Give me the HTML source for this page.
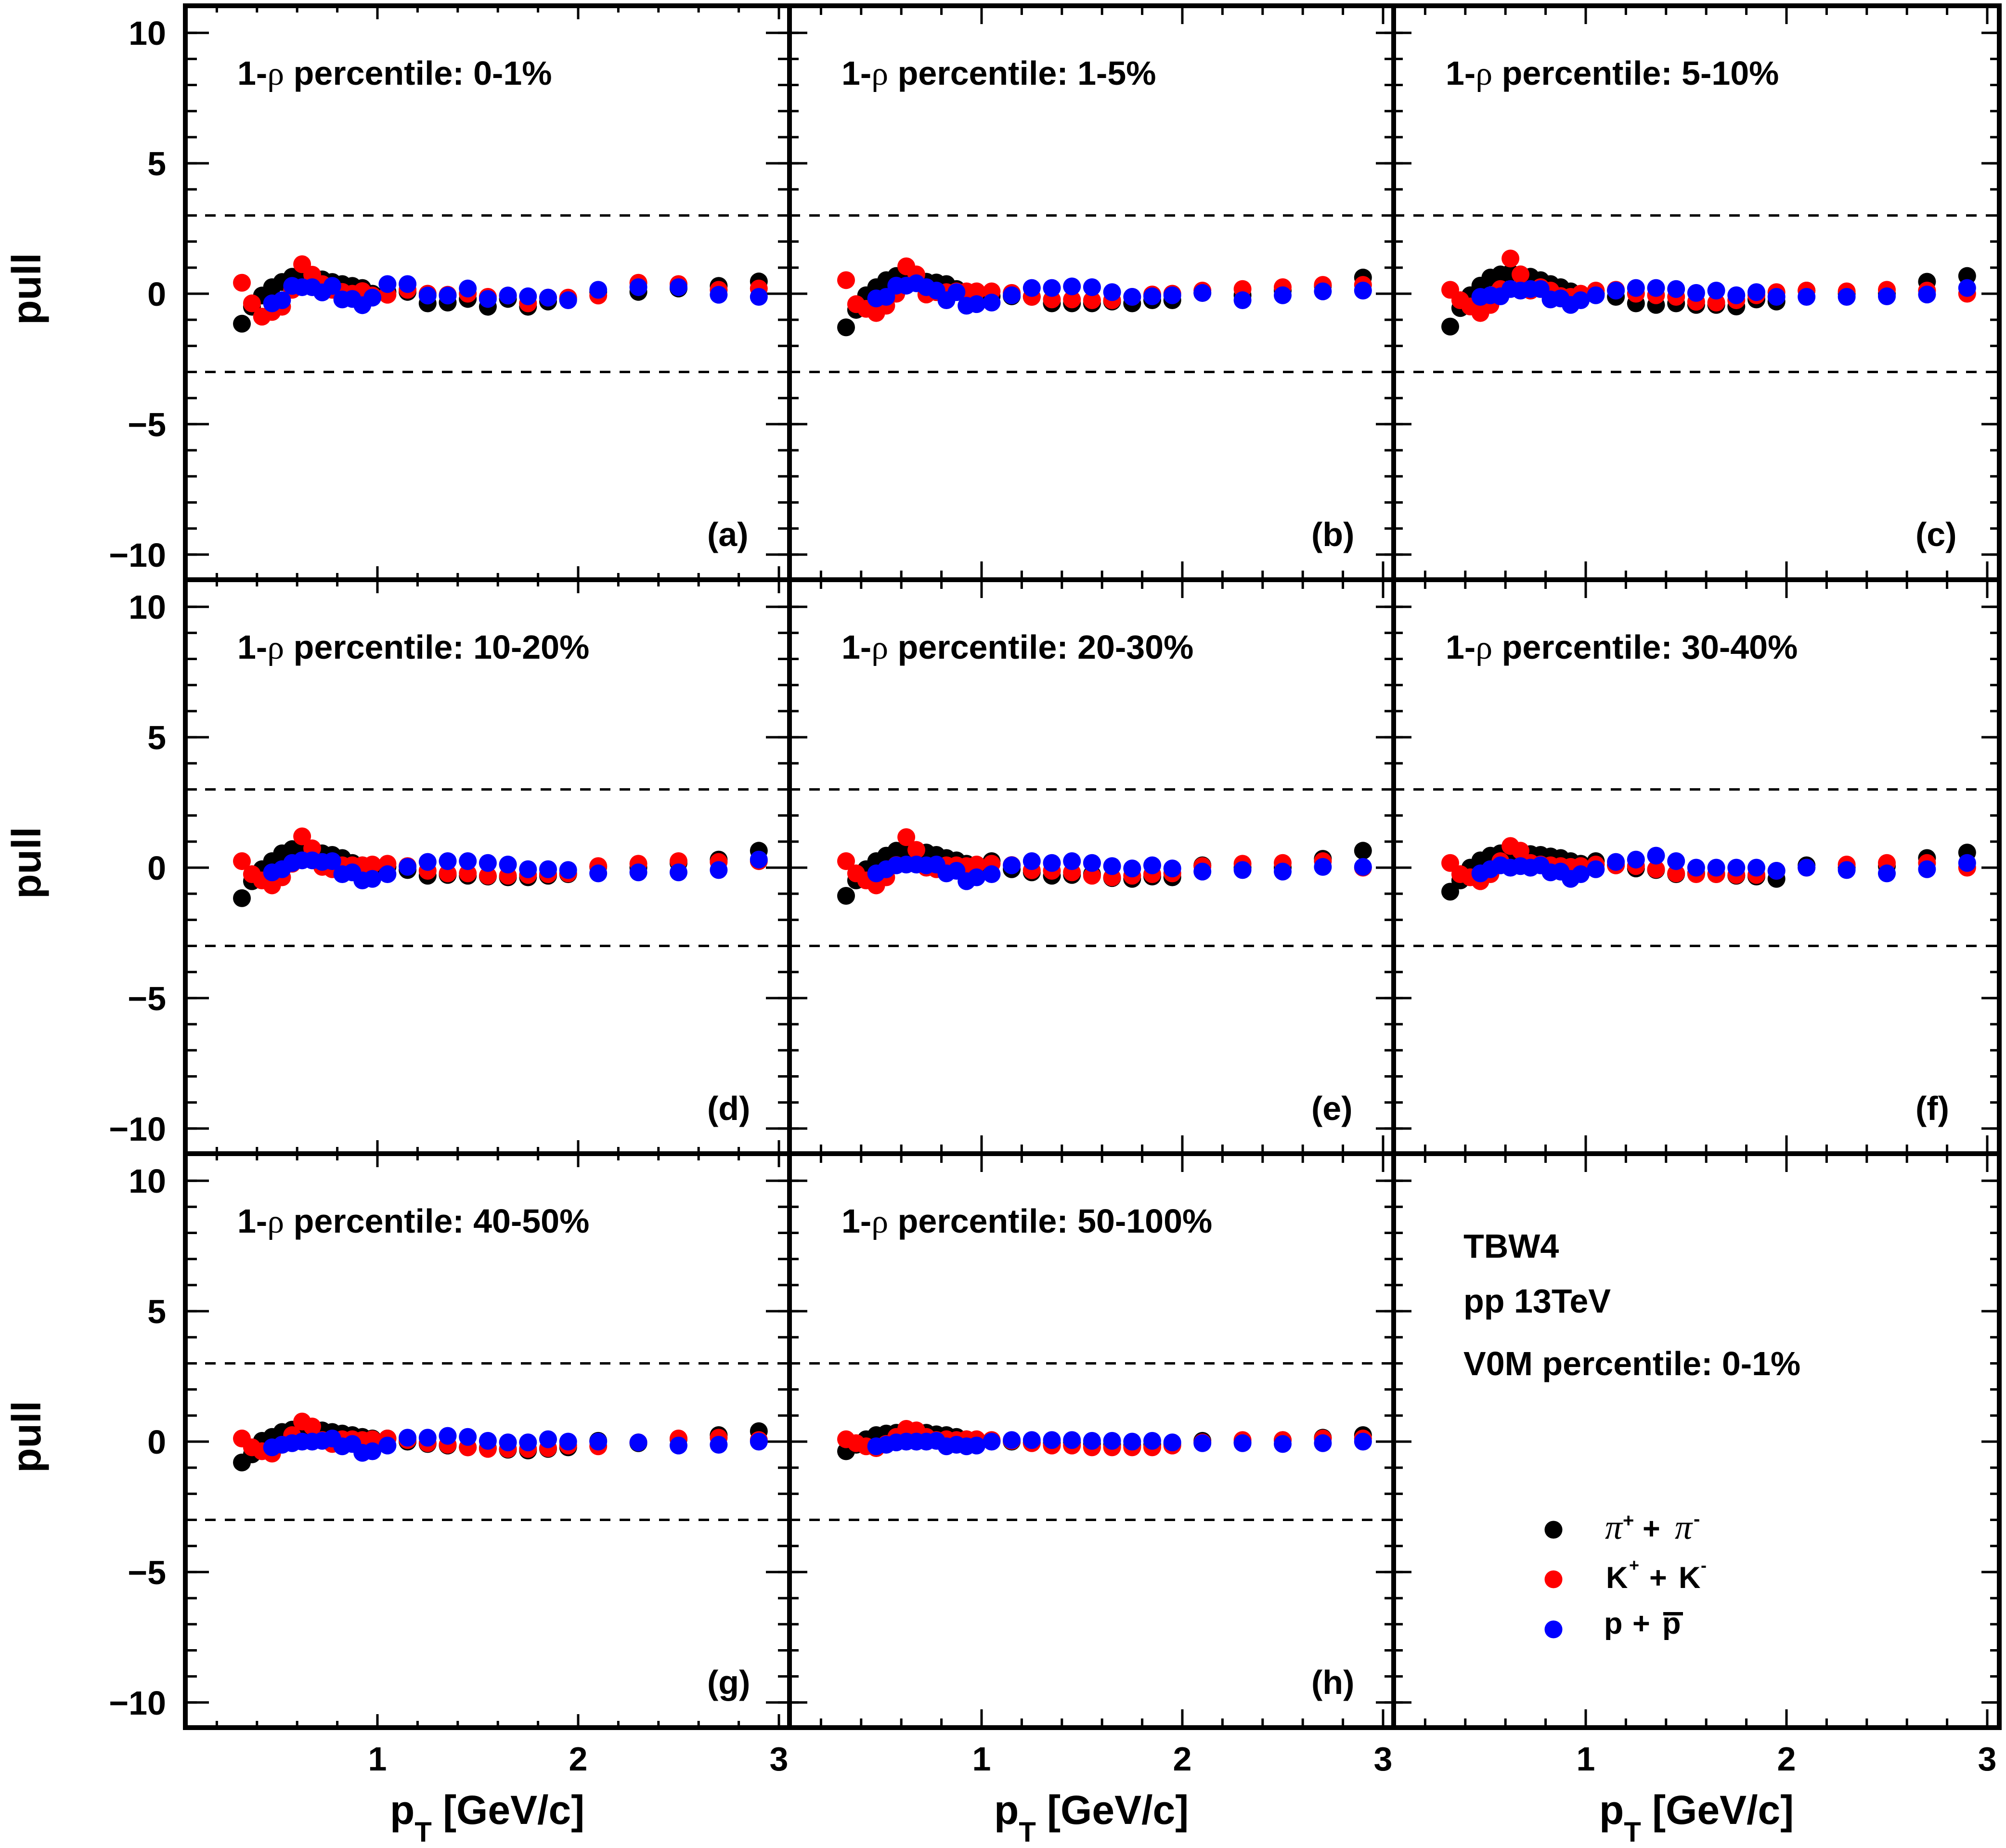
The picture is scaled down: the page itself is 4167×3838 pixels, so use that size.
<!DOCTYPE html>
<html><head><meta charset="utf-8">
<style>
html,body{margin:0;padding:0;background:#fff;}
svg{display:block;}
text{font-family:"Liberation Sans",Arial,sans-serif;font-weight:bold;fill:#000;}
.sym{font-family:"Liberation Serif","DejaVu Serif",serif;font-weight:normal;}
</style></head><body>
<svg width="4167" height="3838" viewBox="0 0 4167 3838" xmlns="http://www.w3.org/2000/svg">
<rect width="4167" height="3838" fill="#fff"/>
<g stroke="#000" stroke-width="5" stroke-dasharray="22 19" fill="none">
<line x1="385" y1="447.5" x2="1640" y2="447.5"/><line x1="385" y1="772.5" x2="1640" y2="772.5"/>
<line x1="1640" y1="447.5" x2="2895" y2="447.5"/><line x1="1640" y1="772.5" x2="2895" y2="772.5"/>
<line x1="2895" y1="447.5" x2="4153" y2="447.5"/><line x1="2895" y1="772.5" x2="4153" y2="772.5"/>
<line x1="385" y1="1639.5" x2="1640" y2="1639.5"/><line x1="385" y1="1964.5" x2="1640" y2="1964.5"/>
<line x1="1640" y1="1639.5" x2="2895" y2="1639.5"/><line x1="1640" y1="1964.5" x2="2895" y2="1964.5"/>
<line x1="2895" y1="1639.5" x2="4153" y2="1639.5"/><line x1="2895" y1="1964.5" x2="4153" y2="1964.5"/>
<line x1="385" y1="2831.5" x2="1640" y2="2831.5"/><line x1="385" y1="3156.5" x2="1640" y2="3156.5"/>
<line x1="1640" y1="2831.5" x2="2895" y2="2831.5"/><line x1="1640" y1="3156.5" x2="2895" y2="3156.5"/>
</g>

<!-- Y ticks (dash trick) -->
<g stroke="#000" fill="none">
<!-- col0 -->
<g stroke-dasharray="5 49.18" stroke-width="24">
<line x1="397" y1="65.7" x2="397" y2="1154.3"/><line x1="1628" y1="65.7" x2="1628" y2="1154.3"/>
<line x1="397" y1="1257.7" x2="397" y2="2346.3"/><line x1="1628" y1="1257.7" x2="1628" y2="2346.3"/>
<line x1="397" y1="2449.7" x2="397" y2="3538.3"/><line x1="1628" y1="2449.7" x2="1628" y2="3538.3"/>
</g>
<g stroke-dasharray="5 265.9" stroke-width="49">
<line x1="409.5" y1="65.7" x2="409.5" y2="1154.3"/><line x1="1615.5" y1="65.7" x2="1615.5" y2="1154.3"/>
<line x1="409.5" y1="1257.7" x2="409.5" y2="2346.3"/><line x1="1615.5" y1="1257.7" x2="1615.5" y2="2346.3"/>
<line x1="409.5" y1="2449.7" x2="409.5" y2="3538.3"/><line x1="1615.5" y1="2449.7" x2="1615.5" y2="3538.3"/>
</g>
<!-- col1 & col2 -->
<g stroke-dasharray="5 49.18" stroke-width="19">
<line x1="1649.5" y1="65.7" x2="1649.5" y2="1154.3"/><line x1="2885.5" y1="65.7" x2="2885.5" y2="1154.3"/>
<line x1="1649.5" y1="1257.7" x2="1649.5" y2="2346.3"/><line x1="2885.5" y1="1257.7" x2="2885.5" y2="2346.3"/>
<line x1="1649.5" y1="2449.7" x2="1649.5" y2="3538.3"/><line x1="2885.5" y1="2449.7" x2="2885.5" y2="3538.3"/>
<line x1="2904.5" y1="65.7" x2="2904.5" y2="1154.3"/><line x1="4143.5" y1="65.7" x2="4143.5" y2="1154.3"/>
<line x1="2904.5" y1="1257.7" x2="2904.5" y2="2346.3"/><line x1="4143.5" y1="1257.7" x2="4143.5" y2="2346.3"/>
<line x1="2904.5" y1="2449.7" x2="2904.5" y2="3538.3"/><line x1="4143.5" y1="2449.7" x2="4143.5" y2="3538.3"/>
</g>
<g stroke-dasharray="5 265.9" stroke-width="37">
<line x1="1658.5" y1="65.7" x2="1658.5" y2="1154.3"/><line x1="2876.5" y1="65.7" x2="2876.5" y2="1154.3"/>
<line x1="1658.5" y1="1257.7" x2="1658.5" y2="2346.3"/><line x1="2876.5" y1="1257.7" x2="2876.5" y2="2346.3"/>
<line x1="1658.5" y1="2449.7" x2="1658.5" y2="3538.3"/><line x1="2876.5" y1="2449.7" x2="2876.5" y2="3538.3"/>
<line x1="2913.5" y1="65.7" x2="2913.5" y2="1154.3"/><line x1="4134.5" y1="65.7" x2="4134.5" y2="1154.3"/>
<line x1="2913.5" y1="1257.7" x2="2913.5" y2="2346.3"/><line x1="4134.5" y1="1257.7" x2="4134.5" y2="2346.3"/>
<line x1="2913.5" y1="2449.7" x2="2913.5" y2="3538.3"/><line x1="4134.5" y1="2449.7" x2="4134.5" y2="3538.3"/>
</g>
</g>

<!-- X ticks (dash trick) -->
<g stroke="#000" fill="none">
<!-- col0 minor -->
<g stroke-dasharray="5 78.4" stroke-width="14">
<line x1="447.9" y1="19" x2="1620.5" y2="19"/><line x1="447.9" y1="1197" x2="1620.5" y2="1197"/>
<line x1="447.9" y1="1211" x2="1620.5" y2="1211"/><line x1="447.9" y1="2389" x2="1620.5" y2="2389"/>
<line x1="447.9" y1="2403" x2="1620.5" y2="2403"/><line x1="447.9" y1="3581" x2="1620.5" y2="3581"/>
</g>
<g stroke-dasharray="5 412" stroke-width="28">
<line x1="781.5" y1="26" x2="1620.5" y2="26"/><line x1="781.5" y1="1190" x2="1620.5" y2="1190"/>
<line x1="781.5" y1="1218" x2="1620.5" y2="1218"/><line x1="781.5" y1="2382" x2="1620.5" y2="2382"/>
<line x1="781.5" y1="2410" x2="1620.5" y2="2410"/><line x1="781.5" y1="3574" x2="1620.5" y2="3574"/>
</g>
<!-- col1/col2 minor -->
<g stroke-dasharray="5 78.4" stroke-width="19">
<line x1="1702.9" y1="21.5" x2="2875.5" y2="21.5"/><line x1="1702.9" y1="1194.5" x2="2875.5" y2="1194.5"/>
<line x1="1702.9" y1="1213.5" x2="2875.5" y2="1213.5"/><line x1="1702.9" y1="2386.5" x2="2875.5" y2="2386.5"/>
<line x1="1702.9" y1="2405.5" x2="2875.5" y2="2405.5"/><line x1="1702.9" y1="3578.5" x2="2875.5" y2="3578.5"/>
<line x1="2957.9" y1="21.5" x2="4130.5" y2="21.5"/><line x1="2957.9" y1="1194.5" x2="4130.5" y2="1194.5"/>
<line x1="2957.9" y1="1213.5" x2="4130.5" y2="1213.5"/><line x1="2957.9" y1="2386.5" x2="4130.5" y2="2386.5"/>
<line x1="2957.9" y1="2405.5" x2="4130.5" y2="2405.5"/><line x1="2957.9" y1="3578.5" x2="4130.5" y2="3578.5"/>
</g>
<g stroke-dasharray="5 412" stroke-width="38">
<line x1="2036.5" y1="31" x2="2875.5" y2="31"/><line x1="2036.5" y1="1185" x2="2875.5" y2="1185"/>
<line x1="2036.5" y1="1223" x2="2875.5" y2="1223"/><line x1="2036.5" y1="2377" x2="2875.5" y2="2377"/>
<line x1="2036.5" y1="2415" x2="2875.5" y2="2415"/><line x1="2036.5" y1="3569" x2="2875.5" y2="3569"/>
<line x1="3291.5" y1="31" x2="4130.5" y2="31"/><line x1="3291.5" y1="1185" x2="4130.5" y2="1185"/>
<line x1="3291.5" y1="1223" x2="4130.5" y2="1223"/><line x1="3291.5" y1="2377" x2="4130.5" y2="2377"/>
<line x1="3291.5" y1="2415" x2="4130.5" y2="2415"/><line x1="3291.5" y1="3569" x2="4130.5" y2="3569"/>
</g>
</g>

<!-- ===== markers ===== -->
<!-- panel a -->
<g transform="translate(385,610) scale(1,-54.18)">
<g fill="#000">
<ellipse cx="117.5" cy="-1.15" rx="18.5" ry=".3415"/><ellipse cx="138.4" cy="-0.5" rx="18.5" ry=".3415"/><ellipse cx="159.2" cy="-0.07" rx="18.5" ry=".3415"/><ellipse cx="180.1" cy="0.25" rx="18.5" ry=".3415"/><ellipse cx="200.9" cy="0.45" rx="18.5" ry=".3415"/><ellipse cx="221.8" cy="0.65" rx="18.5" ry=".3415"/><ellipse cx="242.6" cy="0.7" rx="18.5" ry=".3415"/><ellipse cx="263.5" cy="0.6" rx="18.5" ry=".3415"/><ellipse cx="284.3" cy="0.55" rx="18.5" ry=".3415"/><ellipse cx="305.2" cy="0.45" rx="18.5" ry=".3415"/><ellipse cx="326" cy="0.37" rx="18.5" ry=".3415"/><ellipse cx="346.9" cy="0.3" rx="18.5" ry=".3415"/><ellipse cx="367.7" cy="0.22" rx="18.5" ry=".3415"/><ellipse cx="388.6" cy="0" rx="18.5" ry=".3415"/><ellipse cx="419.9" cy="0.07" rx="18.5" ry=".3415"/><ellipse cx="461.6" cy="0.07" rx="18.5" ry=".3415"/><ellipse cx="503.3" cy="-0.37" rx="18.5" ry=".3415"/><ellipse cx="545" cy="-0.34" rx="18.5" ry=".3415"/><ellipse cx="586.7" cy="-0.2" rx="18.5" ry=".3415"/><ellipse cx="628.4" cy="-0.5" rx="18.5" ry=".3415"/><ellipse cx="670.1" cy="-0.2" rx="18.5" ry=".3415"/><ellipse cx="711.8" cy="-0.5" rx="18.5" ry=".3415"/><ellipse cx="753.5" cy="-0.3" rx="18.5" ry=".3415"/><ellipse cx="795.2" cy="-0.2" rx="18.5" ry=".3415"/><ellipse cx="857.7" cy="0.07" rx="18.5" ry=".3415"/><ellipse cx="941.1" cy="0.07" rx="18.5" ry=".3415"/><ellipse cx="1024.5" cy="0.2" rx="18.5" ry=".3415"/><ellipse cx="1107.9" cy="0.3" rx="18.5" ry=".3415"/><ellipse cx="1191.3" cy="0.47" rx="18.5" ry=".3415"/>
</g>
<g fill="#f00">
<ellipse cx="117.5" cy="0.42" rx="18.5" ry=".3415"/><ellipse cx="138.4" cy="-0.37" rx="18.5" ry=".3415"/><ellipse cx="159.2" cy="-0.88" rx="18.5" ry=".3415"/><ellipse cx="180.1" cy="-0.7" rx="18.5" ry=".3415"/><ellipse cx="200.9" cy="-0.5" rx="18.5" ry=".3415"/><ellipse cx="221.8" cy="0.15" rx="18.5" ry=".3415"/><ellipse cx="242.6" cy="1.13" rx="18.5" ry=".3415"/><ellipse cx="263.5" cy="0.73" rx="18.5" ry=".3415"/><ellipse cx="284.3" cy="0.37" rx="18.5" ry=".3415"/><ellipse cx="305.2" cy="0.15" rx="18.5" ry=".3415"/><ellipse cx="326" cy="0.07" rx="18.5" ry=".3415"/><ellipse cx="346.9" cy="0" rx="18.5" ry=".3415"/><ellipse cx="367.7" cy="0.1" rx="18.5" ry=".3415"/><ellipse cx="388.6" cy="-0.07" rx="18.5" ry=".3415"/><ellipse cx="419.9" cy="-0.04" rx="18.5" ry=".3415"/><ellipse cx="461.6" cy="0.15" rx="18.5" ry=".3415"/><ellipse cx="503.3" cy="0" rx="18.5" ry=".3415"/><ellipse cx="545" cy="-0.04" rx="18.5" ry=".3415"/><ellipse cx="586.7" cy="0" rx="18.5" ry=".3415"/><ellipse cx="628.4" cy="-0.12" rx="18.5" ry=".3415"/><ellipse cx="670.1" cy="-0.07" rx="18.5" ry=".3415"/><ellipse cx="711.8" cy="-0.37" rx="18.5" ry=".3415"/><ellipse cx="753.5" cy="-0.15" rx="18.5" ry=".3415"/><ellipse cx="795.2" cy="-0.15" rx="18.5" ry=".3415"/><ellipse cx="857.7" cy="-0.07" rx="18.5" ry=".3415"/><ellipse cx="941.1" cy="0.42" rx="18.5" ry=".3415"/><ellipse cx="1024.5" cy="0.37" rx="18.5" ry=".3415"/><ellipse cx="1107.9" cy="0.15" rx="18.5" ry=".3415"/><ellipse cx="1191.3" cy="0.2" rx="18.5" ry=".3415"/>
</g>
<g fill="#00f">
<ellipse cx="180.1" cy="-0.37" rx="18.5" ry=".3415"/><ellipse cx="200.9" cy="-0.25" rx="18.5" ry=".3415"/><ellipse cx="221.8" cy="0.3" rx="18.5" ry=".3415"/><ellipse cx="242.6" cy="0.25" rx="18.5" ry=".3415"/><ellipse cx="263.5" cy="0.25" rx="18.5" ry=".3415"/><ellipse cx="284.3" cy="0.05" rx="18.5" ry=".3415"/><ellipse cx="305.2" cy="0.3" rx="18.5" ry=".3415"/><ellipse cx="326" cy="-0.22" rx="18.5" ry=".3415"/><ellipse cx="346.9" cy="-0.2" rx="18.5" ry=".3415"/><ellipse cx="367.7" cy="-0.44" rx="18.5" ry=".3415"/><ellipse cx="388.6" cy="-0.15" rx="18.5" ry=".3415"/><ellipse cx="419.9" cy="0.37" rx="18.5" ry=".3415"/><ellipse cx="461.6" cy="0.37" rx="18.5" ry=".3415"/><ellipse cx="503.3" cy="-0.07" rx="18.5" ry=".3415"/><ellipse cx="545" cy="-0.07" rx="18.5" ry=".3415"/><ellipse cx="586.7" cy="0.2" rx="18.5" ry=".3415"/><ellipse cx="628.4" cy="-0.2" rx="18.5" ry=".3415"/><ellipse cx="670.1" cy="-0.07" rx="18.5" ry=".3415"/><ellipse cx="711.8" cy="-0.1" rx="18.5" ry=".3415"/><ellipse cx="753.5" cy="-0.15" rx="18.5" ry=".3415"/><ellipse cx="795.2" cy="-0.25" rx="18.5" ry=".3415"/><ellipse cx="857.7" cy="0.15" rx="18.5" ry=".3415"/><ellipse cx="941.1" cy="0.25" rx="18.5" ry=".3415"/><ellipse cx="1024.5" cy="0.25" rx="18.5" ry=".3415"/><ellipse cx="1107.9" cy="-0.04" rx="18.5" ry=".3415"/><ellipse cx="1191.3" cy="-0.12" rx="18.5" ry=".3415"/>
</g>
</g>

<!-- panel b -->
<g transform="translate(1640,610) scale(1,-54.18)">
<g fill="#000">
<ellipse cx="117.5" cy="-1.29" rx="18.5" ry=".3415"/><ellipse cx="138.4" cy="-0.62" rx="18.5" ry=".3415"/><ellipse cx="159.2" cy="-0.06" rx="18.5" ry=".3415"/><ellipse cx="180.1" cy="0.25" rx="18.5" ry=".3415"/><ellipse cx="200.9" cy="0.52" rx="18.5" ry=".3415"/><ellipse cx="221.8" cy="0.68" rx="18.5" ry=".3415"/><ellipse cx="242.6" cy="0.77" rx="18.5" ry=".3415"/><ellipse cx="263.5" cy="0.68" rx="18.5" ry=".3415"/><ellipse cx="284.3" cy="0.46" rx="18.5" ry=".3415"/><ellipse cx="305.2" cy="0.43" rx="18.5" ry=".3415"/><ellipse cx="326" cy="0.37" rx="18.5" ry=".3415"/><ellipse cx="346.9" cy="0.18" rx="18.5" ry=".3415"/><ellipse cx="367.7" cy="0.06" rx="18.5" ry=".3415"/><ellipse cx="388.6" cy="-0.1" rx="18.5" ry=".3415"/><ellipse cx="419.9" cy="-0.1" rx="18.5" ry=".3415"/><ellipse cx="461.6" cy="-0.1" rx="18.5" ry=".3415"/><ellipse cx="503.3" cy="-0.12" rx="18.5" ry=".3415"/><ellipse cx="545" cy="-0.37" rx="18.5" ry=".3415"/><ellipse cx="586.7" cy="-0.37" rx="18.5" ry=".3415"/><ellipse cx="628.4" cy="-0.37" rx="18.5" ry=".3415"/><ellipse cx="670.1" cy="-0.3" rx="18.5" ry=".3415"/><ellipse cx="711.8" cy="-0.37" rx="18.5" ry=".3415"/><ellipse cx="753.5" cy="-0.25" rx="18.5" ry=".3415"/><ellipse cx="795.2" cy="-0.25" rx="18.5" ry=".3415"/><ellipse cx="857.7" cy="0.03" rx="18.5" ry=".3415"/><ellipse cx="941.1" cy="-0.06" rx="18.5" ry=".3415"/><ellipse cx="1024.5" cy="0.12" rx="18.5" ry=".3415"/><ellipse cx="1107.9" cy="0.3" rx="18.5" ry=".3415"/><ellipse cx="1191.3" cy="0.62" rx="18.5" ry=".3415"/>
</g>
<g fill="#f00">
<ellipse cx="117.5" cy="0.52" rx="18.5" ry=".3415"/><ellipse cx="138.4" cy="-0.4" rx="18.5" ry=".3415"/><ellipse cx="159.2" cy="-0.58" rx="18.5" ry=".3415"/><ellipse cx="180.1" cy="-0.74" rx="18.5" ry=".3415"/><ellipse cx="200.9" cy="-0.46" rx="18.5" ry=".3415"/><ellipse cx="221.8" cy="0" rx="18.5" ry=".3415"/><ellipse cx="242.6" cy="1.05" rx="18.5" ry=".3415"/><ellipse cx="263.5" cy="0.74" rx="18.5" ry=".3415"/><ellipse cx="284.3" cy="-0.03" rx="18.5" ry=".3415"/><ellipse cx="305.2" cy="0.06" rx="18.5" ry=".3415"/><ellipse cx="326" cy="0.06" rx="18.5" ry=".3415"/><ellipse cx="346.9" cy="0.09" rx="18.5" ry=".3415"/><ellipse cx="367.7" cy="0.09" rx="18.5" ry=".3415"/><ellipse cx="388.6" cy="0.09" rx="18.5" ry=".3415"/><ellipse cx="419.9" cy="0.09" rx="18.5" ry=".3415"/><ellipse cx="461.6" cy="0.03" rx="18.5" ry=".3415"/><ellipse cx="503.3" cy="-0.12" rx="18.5" ry=".3415"/><ellipse cx="545" cy="-0.22" rx="18.5" ry=".3415"/><ellipse cx="586.7" cy="-0.22" rx="18.5" ry=".3415"/><ellipse cx="628.4" cy="-0.25" rx="18.5" ry=".3415"/><ellipse cx="670.1" cy="-0.25" rx="18.5" ry=".3415"/><ellipse cx="711.8" cy="-0.12" rx="18.5" ry=".3415"/><ellipse cx="753.5" cy="-0.03" rx="18.5" ry=".3415"/><ellipse cx="795.2" cy="0" rx="18.5" ry=".3415"/><ellipse cx="857.7" cy="0.12" rx="18.5" ry=".3415"/><ellipse cx="941.1" cy="0.18" rx="18.5" ry=".3415"/><ellipse cx="1024.5" cy="0.25" rx="18.5" ry=".3415"/><ellipse cx="1107.9" cy="0.34" rx="18.5" ry=".3415"/><ellipse cx="1191.3" cy="0.34" rx="18.5" ry=".3415"/>
</g>
<g fill="#00f">
<ellipse cx="180.1" cy="-0.18" rx="18.5" ry=".3415"/><ellipse cx="200.9" cy="-0.12" rx="18.5" ry=".3415"/><ellipse cx="221.8" cy="0.31" rx="18.5" ry=".3415"/><ellipse cx="242.6" cy="0.31" rx="18.5" ry=".3415"/><ellipse cx="263.5" cy="0.4" rx="18.5" ry=".3415"/><ellipse cx="284.3" cy="0.25" rx="18.5" ry=".3415"/><ellipse cx="305.2" cy="0.12" rx="18.5" ry=".3415"/><ellipse cx="326" cy="-0.25" rx="18.5" ry=".3415"/><ellipse cx="346.9" cy="0.06" rx="18.5" ry=".3415"/><ellipse cx="367.7" cy="-0.46" rx="18.5" ry=".3415"/><ellipse cx="388.6" cy="-0.4" rx="18.5" ry=".3415"/><ellipse cx="419.9" cy="-0.34" rx="18.5" ry=".3415"/><ellipse cx="461.6" cy="-0.06" rx="18.5" ry=".3415"/><ellipse cx="503.3" cy="0.22" rx="18.5" ry=".3415"/><ellipse cx="545" cy="0.22" rx="18.5" ry=".3415"/><ellipse cx="586.7" cy="0.28" rx="18.5" ry=".3415"/><ellipse cx="628.4" cy="0.25" rx="18.5" ry=".3415"/><ellipse cx="670.1" cy="0.06" rx="18.5" ry=".3415"/><ellipse cx="711.8" cy="-0.12" rx="18.5" ry=".3415"/><ellipse cx="753.5" cy="-0.1" rx="18.5" ry=".3415"/><ellipse cx="795.2" cy="-0.06" rx="18.5" ry=".3415"/><ellipse cx="857.7" cy="0.03" rx="18.5" ry=".3415"/><ellipse cx="941.1" cy="-0.25" rx="18.5" ry=".3415"/><ellipse cx="1024.5" cy="-0.06" rx="18.5" ry=".3415"/><ellipse cx="1107.9" cy="0.09" rx="18.5" ry=".3415"/><ellipse cx="1191.3" cy="0.12" rx="18.5" ry=".3415"/>
</g>
</g>

<!-- panel c -->
<g transform="translate(2895,610) scale(1,-54.18)">
<g fill="#000">
<ellipse cx="117.5" cy="-1.26" rx="18.5" ry=".3415"/><ellipse cx="138.4" cy="-0.55" rx="18.5" ry=".3415"/><ellipse cx="159.2" cy="-0.06" rx="18.5" ry=".3415"/><ellipse cx="180.1" cy="0.31" rx="18.5" ry=".3415"/><ellipse cx="200.9" cy="0.62" rx="18.5" ry=".3415"/><ellipse cx="221.8" cy="0.74" rx="18.5" ry=".3415"/><ellipse cx="242.6" cy="0.8" rx="18.5" ry=".3415"/><ellipse cx="263.5" cy="0.74" rx="18.5" ry=".3415"/><ellipse cx="284.3" cy="0.65" rx="18.5" ry=".3415"/><ellipse cx="305.2" cy="0.52" rx="18.5" ry=".3415"/><ellipse cx="326" cy="0.37" rx="18.5" ry=".3415"/><ellipse cx="346.9" cy="0.25" rx="18.5" ry=".3415"/><ellipse cx="367.7" cy="0.09" rx="18.5" ry=".3415"/><ellipse cx="388.6" cy="-0.03" rx="18.5" ry=".3415"/><ellipse cx="419.9" cy="0" rx="18.5" ry=".3415"/><ellipse cx="461.6" cy="-0.12" rx="18.5" ry=".3415"/><ellipse cx="503.3" cy="-0.37" rx="18.5" ry=".3415"/><ellipse cx="545" cy="-0.43" rx="18.5" ry=".3415"/><ellipse cx="586.7" cy="-0.37" rx="18.5" ry=".3415"/><ellipse cx="628.4" cy="-0.43" rx="18.5" ry=".3415"/><ellipse cx="670.1" cy="-0.43" rx="18.5" ry=".3415"/><ellipse cx="711.8" cy="-0.49" rx="18.5" ry=".3415"/><ellipse cx="753.5" cy="-0.22" rx="18.5" ry=".3415"/><ellipse cx="795.2" cy="-0.3" rx="18.5" ry=".3415"/><ellipse cx="857.7" cy="0.12" rx="18.5" ry=".3415"/><ellipse cx="941.1" cy="0" rx="18.5" ry=".3415"/><ellipse cx="1024.5" cy="0" rx="18.5" ry=".3415"/><ellipse cx="1107.9" cy="0.46" rx="18.5" ry=".3415"/><ellipse cx="1191.3" cy="0.68" rx="18.5" ry=".3415"/>
</g>
<g fill="#f00">
<ellipse cx="117.5" cy="0.15" rx="18.5" ry=".3415"/><ellipse cx="138.4" cy="-0.25" rx="18.5" ry=".3415"/><ellipse cx="159.2" cy="-0.49" rx="18.5" ry=".3415"/><ellipse cx="180.1" cy="-0.74" rx="18.5" ry=".3415"/><ellipse cx="200.9" cy="-0.43" rx="18.5" ry=".3415"/><ellipse cx="221.8" cy="0.18" rx="18.5" ry=".3415"/><ellipse cx="242.6" cy="1.35" rx="18.5" ry=".3415"/><ellipse cx="263.5" cy="0.74" rx="18.5" ry=".3415"/><ellipse cx="284.3" cy="0.12" rx="18.5" ry=".3415"/><ellipse cx="305.2" cy="0.25" rx="18.5" ry=".3415"/><ellipse cx="326" cy="0.12" rx="18.5" ry=".3415"/><ellipse cx="346.9" cy="-0.09" rx="18.5" ry=".3415"/><ellipse cx="367.7" cy="-0.12" rx="18.5" ry=".3415"/><ellipse cx="388.6" cy="0" rx="18.5" ry=".3415"/><ellipse cx="419.9" cy="0.12" rx="18.5" ry=".3415"/><ellipse cx="461.6" cy="0.15" rx="18.5" ry=".3415"/><ellipse cx="503.3" cy="0" rx="18.5" ry=".3415"/><ellipse cx="545" cy="-0.06" rx="18.5" ry=".3415"/><ellipse cx="586.7" cy="-0.12" rx="18.5" ry=".3415"/><ellipse cx="628.4" cy="-0.31" rx="18.5" ry=".3415"/><ellipse cx="670.1" cy="-0.34" rx="18.5" ry=".3415"/><ellipse cx="711.8" cy="-0.25" rx="18.5" ry=".3415"/><ellipse cx="753.5" cy="-0.06" rx="18.5" ry=".3415"/><ellipse cx="795.2" cy="0.06" rx="18.5" ry=".3415"/><ellipse cx="857.7" cy="0.12" rx="18.5" ry=".3415"/><ellipse cx="941.1" cy="0.09" rx="18.5" ry=".3415"/><ellipse cx="1024.5" cy="0.15" rx="18.5" ry=".3415"/><ellipse cx="1107.9" cy="0.12" rx="18.5" ry=".3415"/><ellipse cx="1191.3" cy="0" rx="18.5" ry=".3415"/>
</g>
<g fill="#00f">
<ellipse cx="180.1" cy="-0.12" rx="18.5" ry=".3415"/><ellipse cx="200.9" cy="-0.06" rx="18.5" ry=".3415"/><ellipse cx="221.8" cy="-0.1" rx="18.5" ry=".3415"/><ellipse cx="242.6" cy="0.18" rx="18.5" ry=".3415"/><ellipse cx="263.5" cy="0.12" rx="18.5" ry=".3415"/><ellipse cx="284.3" cy="0.18" rx="18.5" ry=".3415"/><ellipse cx="305.2" cy="0.18" rx="18.5" ry=".3415"/><ellipse cx="326" cy="-0.22" rx="18.5" ry=".3415"/><ellipse cx="346.9" cy="-0.18" rx="18.5" ry=".3415"/><ellipse cx="367.7" cy="-0.43" rx="18.5" ry=".3415"/><ellipse cx="388.6" cy="-0.25" rx="18.5" ry=".3415"/><ellipse cx="419.9" cy="-0.06" rx="18.5" ry=".3415"/><ellipse cx="461.6" cy="0.12" rx="18.5" ry=".3415"/><ellipse cx="503.3" cy="0.22" rx="18.5" ry=".3415"/><ellipse cx="545" cy="0.22" rx="18.5" ry=".3415"/><ellipse cx="586.7" cy="0.18" rx="18.5" ry=".3415"/><ellipse cx="628.4" cy="0.03" rx="18.5" ry=".3415"/><ellipse cx="670.1" cy="0.12" rx="18.5" ry=".3415"/><ellipse cx="711.8" cy="-0.06" rx="18.5" ry=".3415"/><ellipse cx="753.5" cy="0.06" rx="18.5" ry=".3415"/><ellipse cx="795.2" cy="-0.12" rx="18.5" ry=".3415"/><ellipse cx="857.7" cy="-0.12" rx="18.5" ry=".3415"/><ellipse cx="941.1" cy="-0.12" rx="18.5" ry=".3415"/><ellipse cx="1024.5" cy="-0.1" rx="18.5" ry=".3415"/><ellipse cx="1107.9" cy="-0.03" rx="18.5" ry=".3415"/><ellipse cx="1191.3" cy="0.22" rx="18.5" ry=".3415"/>
</g>
</g>

<!-- panel d -->
<g transform="translate(385,1802) scale(1,-54.18)">
<g fill="#000">
<ellipse cx="117.5" cy="-1.17" rx="18.5" ry=".3415"/><ellipse cx="138.4" cy="-0.52" rx="18.5" ry=".3415"/><ellipse cx="159.2" cy="-0.06" rx="18.5" ry=".3415"/><ellipse cx="180.1" cy="0.25" rx="18.5" ry=".3415"/><ellipse cx="200.9" cy="0.55" rx="18.5" ry=".3415"/><ellipse cx="221.8" cy="0.71" rx="18.5" ry=".3415"/><ellipse cx="242.6" cy="0.77" rx="18.5" ry=".3415"/><ellipse cx="263.5" cy="0.65" rx="18.5" ry=".3415"/><ellipse cx="284.3" cy="0.55" rx="18.5" ry=".3415"/><ellipse cx="305.2" cy="0.49" rx="18.5" ry=".3415"/><ellipse cx="326" cy="0.37" rx="18.5" ry=".3415"/><ellipse cx="346.9" cy="0.18" rx="18.5" ry=".3415"/><ellipse cx="367.7" cy="0.09" rx="18.5" ry=".3415"/><ellipse cx="388.6" cy="0" rx="18.5" ry=".3415"/><ellipse cx="419.9" cy="0.03" rx="18.5" ry=".3415"/><ellipse cx="461.6" cy="-0.09" rx="18.5" ry=".3415"/><ellipse cx="503.3" cy="-0.31" rx="18.5" ry=".3415"/><ellipse cx="545" cy="-0.28" rx="18.5" ry=".3415"/><ellipse cx="586.7" cy="-0.31" rx="18.5" ry=".3415"/><ellipse cx="628.4" cy="-0.34" rx="18.5" ry=".3415"/><ellipse cx="670.1" cy="-0.37" rx="18.5" ry=".3415"/><ellipse cx="711.8" cy="-0.37" rx="18.5" ry=".3415"/><ellipse cx="753.5" cy="-0.31" rx="18.5" ry=".3415"/><ellipse cx="795.2" cy="-0.25" rx="18.5" ry=".3415"/><ellipse cx="857.7" cy="0.03" rx="18.5" ry=".3415"/><ellipse cx="941.1" cy="0" rx="18.5" ry=".3415"/><ellipse cx="1024.5" cy="0.18" rx="18.5" ry=".3415"/><ellipse cx="1107.9" cy="0.31" rx="18.5" ry=".3415"/><ellipse cx="1191.3" cy="0.65" rx="18.5" ry=".3415"/>
</g>
<g fill="#f00">
<ellipse cx="117.5" cy="0.25" rx="18.5" ry=".3415"/><ellipse cx="138.4" cy="-0.25" rx="18.5" ry=".3415"/><ellipse cx="159.2" cy="-0.49" rx="18.5" ry=".3415"/><ellipse cx="180.1" cy="-0.68" rx="18.5" ry=".3415"/><ellipse cx="200.9" cy="-0.37" rx="18.5" ry=".3415"/><ellipse cx="221.8" cy="0.15" rx="18.5" ry=".3415"/><ellipse cx="242.6" cy="1.2" rx="18.5" ry=".3415"/><ellipse cx="263.5" cy="0.74" rx="18.5" ry=".3415"/><ellipse cx="284.3" cy="0.03" rx="18.5" ry=".3415"/><ellipse cx="305.2" cy="-0.06" rx="18.5" ry=".3415"/><ellipse cx="326" cy="0.09" rx="18.5" ry=".3415"/><ellipse cx="346.9" cy="0.09" rx="18.5" ry=".3415"/><ellipse cx="367.7" cy="0.09" rx="18.5" ry=".3415"/><ellipse cx="388.6" cy="0.12" rx="18.5" ry=".3415"/><ellipse cx="419.9" cy="0.15" rx="18.5" ry=".3415"/><ellipse cx="461.6" cy="0.06" rx="18.5" ry=".3415"/><ellipse cx="503.3" cy="-0.12" rx="18.5" ry=".3415"/><ellipse cx="545" cy="-0.22" rx="18.5" ry=".3415"/><ellipse cx="586.7" cy="-0.22" rx="18.5" ry=".3415"/><ellipse cx="628.4" cy="-0.31" rx="18.5" ry=".3415"/><ellipse cx="670.1" cy="-0.31" rx="18.5" ry=".3415"/><ellipse cx="711.8" cy="-0.28" rx="18.5" ry=".3415"/><ellipse cx="753.5" cy="-0.25" rx="18.5" ry=".3415"/><ellipse cx="795.2" cy="-0.22" rx="18.5" ry=".3415"/><ellipse cx="857.7" cy="0.06" rx="18.5" ry=".3415"/><ellipse cx="941.1" cy="0.15" rx="18.5" ry=".3415"/><ellipse cx="1024.5" cy="0.25" rx="18.5" ry=".3415"/><ellipse cx="1107.9" cy="0.22" rx="18.5" ry=".3415"/><ellipse cx="1191.3" cy="0.25" rx="18.5" ry=".3415"/>
</g>
<g fill="#00f">
<ellipse cx="180.1" cy="-0.18" rx="18.5" ry=".3415"/><ellipse cx="200.9" cy="-0.06" rx="18.5" ry=".3415"/><ellipse cx="221.8" cy="0.18" rx="18.5" ry=".3415"/><ellipse cx="242.6" cy="0.28" rx="18.5" ry=".3415"/><ellipse cx="263.5" cy="0.28" rx="18.5" ry=".3415"/><ellipse cx="284.3" cy="0.22" rx="18.5" ry=".3415"/><ellipse cx="305.2" cy="0.25" rx="18.5" ry=".3415"/><ellipse cx="326" cy="-0.25" rx="18.5" ry=".3415"/><ellipse cx="346.9" cy="-0.18" rx="18.5" ry=".3415"/><ellipse cx="367.7" cy="-0.49" rx="18.5" ry=".3415"/><ellipse cx="388.6" cy="-0.43" rx="18.5" ry=".3415"/><ellipse cx="419.9" cy="-0.25" rx="18.5" ry=".3415"/><ellipse cx="461.6" cy="0.03" rx="18.5" ry=".3415"/><ellipse cx="503.3" cy="0.22" rx="18.5" ry=".3415"/><ellipse cx="545" cy="0.25" rx="18.5" ry=".3415"/><ellipse cx="586.7" cy="0.25" rx="18.5" ry=".3415"/><ellipse cx="628.4" cy="0.18" rx="18.5" ry=".3415"/><ellipse cx="670.1" cy="0.12" rx="18.5" ry=".3415"/><ellipse cx="711.8" cy="-0.06" rx="18.5" ry=".3415"/><ellipse cx="753.5" cy="-0.06" rx="18.5" ry=".3415"/><ellipse cx="795.2" cy="-0.09" rx="18.5" ry=".3415"/><ellipse cx="857.7" cy="-0.22" rx="18.5" ry=".3415"/><ellipse cx="941.1" cy="-0.18" rx="18.5" ry=".3415"/><ellipse cx="1024.5" cy="-0.18" rx="18.5" ry=".3415"/><ellipse cx="1107.9" cy="-0.09" rx="18.5" ry=".3415"/><ellipse cx="1191.3" cy="0.31" rx="18.5" ry=".3415"/>
</g>
</g>

<!-- panel e -->
<g transform="translate(1640,1802) scale(1,-54.18)">
<g fill="#000">
<ellipse cx="117.5" cy="-1.08" rx="18.5" ry=".3415"/><ellipse cx="138.4" cy="-0.49" rx="18.5" ry=".3415"/><ellipse cx="159.2" cy="-0.06" rx="18.5" ry=".3415"/><ellipse cx="180.1" cy="0.25" rx="18.5" ry=".3415"/><ellipse cx="200.9" cy="0.46" rx="18.5" ry=".3415"/><ellipse cx="221.8" cy="0.65" rx="18.5" ry=".3415"/><ellipse cx="242.6" cy="0.71" rx="18.5" ry=".3415"/><ellipse cx="263.5" cy="0.65" rx="18.5" ry=".3415"/><ellipse cx="284.3" cy="0.58" rx="18.5" ry=".3415"/><ellipse cx="305.2" cy="0.49" rx="18.5" ry=".3415"/><ellipse cx="326" cy="0.37" rx="18.5" ry=".3415"/><ellipse cx="346.9" cy="0.28" rx="18.5" ry=".3415"/><ellipse cx="367.7" cy="0.15" rx="18.5" ry=".3415"/><ellipse cx="388.6" cy="0.09" rx="18.5" ry=".3415"/><ellipse cx="419.9" cy="0.25" rx="18.5" ry=".3415"/><ellipse cx="461.6" cy="-0.06" rx="18.5" ry=".3415"/><ellipse cx="503.3" cy="-0.18" rx="18.5" ry=".3415"/><ellipse cx="545" cy="-0.31" rx="18.5" ry=".3415"/><ellipse cx="586.7" cy="-0.28" rx="18.5" ry=".3415"/><ellipse cx="628.4" cy="-0.25" rx="18.5" ry=".3415"/><ellipse cx="670.1" cy="-0.4" rx="18.5" ry=".3415"/><ellipse cx="711.8" cy="-0.43" rx="18.5" ry=".3415"/><ellipse cx="753.5" cy="-0.34" rx="18.5" ry=".3415"/><ellipse cx="795.2" cy="-0.37" rx="18.5" ry=".3415"/><ellipse cx="857.7" cy="0.09" rx="18.5" ry=".3415"/><ellipse cx="941.1" cy="0" rx="18.5" ry=".3415"/><ellipse cx="1024.5" cy="0" rx="18.5" ry=".3415"/><ellipse cx="1107.9" cy="0.34" rx="18.5" ry=".3415"/><ellipse cx="1191.3" cy="0.65" rx="18.5" ry=".3415"/>
</g>
<g fill="#f00">
<ellipse cx="117.5" cy="0.25" rx="18.5" ry=".3415"/><ellipse cx="138.4" cy="-0.22" rx="18.5" ry=".3415"/><ellipse cx="159.2" cy="-0.49" rx="18.5" ry=".3415"/><ellipse cx="180.1" cy="-0.68" rx="18.5" ry=".3415"/><ellipse cx="200.9" cy="-0.37" rx="18.5" ry=".3415"/><ellipse cx="221.8" cy="0.1" rx="18.5" ry=".3415"/><ellipse cx="242.6" cy="1.17" rx="18.5" ry=".3415"/><ellipse cx="263.5" cy="0.68" rx="18.5" ry=".3415"/><ellipse cx="284.3" cy="0" rx="18.5" ry=".3415"/><ellipse cx="305.2" cy="-0.06" rx="18.5" ry=".3415"/><ellipse cx="326" cy="0.09" rx="18.5" ry=".3415"/><ellipse cx="346.9" cy="0.09" rx="18.5" ry=".3415"/><ellipse cx="367.7" cy="0.06" rx="18.5" ry=".3415"/><ellipse cx="388.6" cy="0.12" rx="18.5" ry=".3415"/><ellipse cx="419.9" cy="0.15" rx="18.5" ry=".3415"/><ellipse cx="461.6" cy="0.1" rx="18.5" ry=".3415"/><ellipse cx="503.3" cy="-0.1" rx="18.5" ry=".3415"/><ellipse cx="545" cy="-0.12" rx="18.5" ry=".3415"/><ellipse cx="586.7" cy="-0.18" rx="18.5" ry=".3415"/><ellipse cx="628.4" cy="-0.31" rx="18.5" ry=".3415"/><ellipse cx="670.1" cy="-0.37" rx="18.5" ry=".3415"/><ellipse cx="711.8" cy="-0.31" rx="18.5" ry=".3415"/><ellipse cx="753.5" cy="-0.25" rx="18.5" ry=".3415"/><ellipse cx="795.2" cy="-0.22" rx="18.5" ry=".3415"/><ellipse cx="857.7" cy="0.06" rx="18.5" ry=".3415"/><ellipse cx="941.1" cy="0.15" rx="18.5" ry=".3415"/><ellipse cx="1024.5" cy="0.18" rx="18.5" ry=".3415"/><ellipse cx="1107.9" cy="0.25" rx="18.5" ry=".3415"/><ellipse cx="1191.3" cy="0" rx="18.5" ry=".3415"/>
</g>
<g fill="#00f">
<ellipse cx="180.1" cy="-0.22" rx="18.5" ry=".3415"/><ellipse cx="200.9" cy="-0.06" rx="18.5" ry=".3415"/><ellipse cx="221.8" cy="0.09" rx="18.5" ry=".3415"/><ellipse cx="242.6" cy="0.12" rx="18.5" ry=".3415"/><ellipse cx="263.5" cy="0.12" rx="18.5" ry=".3415"/><ellipse cx="284.3" cy="0.09" rx="18.5" ry=".3415"/><ellipse cx="305.2" cy="0.12" rx="18.5" ry=".3415"/><ellipse cx="326" cy="-0.22" rx="18.5" ry=".3415"/><ellipse cx="346.9" cy="-0.12" rx="18.5" ry=".3415"/><ellipse cx="367.7" cy="-0.52" rx="18.5" ry=".3415"/><ellipse cx="388.6" cy="-0.37" rx="18.5" ry=".3415"/><ellipse cx="419.9" cy="-0.25" rx="18.5" ry=".3415"/><ellipse cx="461.6" cy="0.09" rx="18.5" ry=".3415"/><ellipse cx="503.3" cy="0.25" rx="18.5" ry=".3415"/><ellipse cx="545" cy="0.18" rx="18.5" ry=".3415"/><ellipse cx="586.7" cy="0.25" rx="18.5" ry=".3415"/><ellipse cx="628.4" cy="0.18" rx="18.5" ry=".3415"/><ellipse cx="670.1" cy="0.06" rx="18.5" ry=".3415"/><ellipse cx="711.8" cy="-0.03" rx="18.5" ry=".3415"/><ellipse cx="753.5" cy="0.09" rx="18.5" ry=".3415"/><ellipse cx="795.2" cy="-0.03" rx="18.5" ry=".3415"/><ellipse cx="857.7" cy="-0.15" rx="18.5" ry=".3415"/><ellipse cx="941.1" cy="-0.09" rx="18.5" ry=".3415"/><ellipse cx="1024.5" cy="-0.15" rx="18.5" ry=".3415"/><ellipse cx="1107.9" cy="0.03" rx="18.5" ry=".3415"/><ellipse cx="1191.3" cy="0.03" rx="18.5" ry=".3415"/>
</g>
</g>

<!-- panel f -->
<g transform="translate(2895,1802) scale(1,-54.18)">
<g fill="#000">
<ellipse cx="117.5" cy="-0.92" rx="18.5" ry=".3415"/><ellipse cx="138.4" cy="-0.49" rx="18.5" ry=".3415"/><ellipse cx="159.2" cy="0" rx="18.5" ry=".3415"/><ellipse cx="180.1" cy="0.28" rx="18.5" ry=".3415"/><ellipse cx="200.9" cy="0.46" rx="18.5" ry=".3415"/><ellipse cx="221.8" cy="0.55" rx="18.5" ry=".3415"/><ellipse cx="242.6" cy="0.58" rx="18.5" ry=".3415"/><ellipse cx="263.5" cy="0.55" rx="18.5" ry=".3415"/><ellipse cx="284.3" cy="0.52" rx="18.5" ry=".3415"/><ellipse cx="305.2" cy="0.49" rx="18.5" ry=".3415"/><ellipse cx="326" cy="0.43" rx="18.5" ry=".3415"/><ellipse cx="346.9" cy="0.37" rx="18.5" ry=".3415"/><ellipse cx="367.7" cy="0.25" rx="18.5" ry=".3415"/><ellipse cx="388.6" cy="0.15" rx="18.5" ry=".3415"/><ellipse cx="419.9" cy="0.25" rx="18.5" ry=".3415"/><ellipse cx="461.6" cy="0.09" rx="18.5" ry=".3415"/><ellipse cx="503.3" cy="-0.03" rx="18.5" ry=".3415"/><ellipse cx="545" cy="-0.09" rx="18.5" ry=".3415"/><ellipse cx="586.7" cy="-0.25" rx="18.5" ry=".3415"/><ellipse cx="628.4" cy="-0.22" rx="18.5" ry=".3415"/><ellipse cx="670.1" cy="-0.25" rx="18.5" ry=".3415"/><ellipse cx="711.8" cy="-0.31" rx="18.5" ry=".3415"/><ellipse cx="753.5" cy="-0.34" rx="18.5" ry=".3415"/><ellipse cx="795.2" cy="-0.43" rx="18.5" ry=".3415"/><ellipse cx="857.7" cy="0.09" rx="18.5" ry=".3415"/><ellipse cx="941.1" cy="0" rx="18.5" ry=".3415"/><ellipse cx="1024.5" cy="0.06" rx="18.5" ry=".3415"/><ellipse cx="1107.9" cy="0.37" rx="18.5" ry=".3415"/><ellipse cx="1191.3" cy="0.58" rx="18.5" ry=".3415"/>
</g>
<g fill="#f00">
<ellipse cx="117.5" cy="0.18" rx="18.5" ry=".3415"/><ellipse cx="138.4" cy="-0.25" rx="18.5" ry=".3415"/><ellipse cx="159.2" cy="-0.37" rx="18.5" ry=".3415"/><ellipse cx="180.1" cy="-0.52" rx="18.5" ry=".3415"/><ellipse cx="200.9" cy="-0.25" rx="18.5" ry=".3415"/><ellipse cx="221.8" cy="0.25" rx="18.5" ry=".3415"/><ellipse cx="242.6" cy="0.83" rx="18.5" ry=".3415"/><ellipse cx="263.5" cy="0.65" rx="18.5" ry=".3415"/><ellipse cx="284.3" cy="0.18" rx="18.5" ry=".3415"/><ellipse cx="305.2" cy="0.12" rx="18.5" ry=".3415"/><ellipse cx="326" cy="0.09" rx="18.5" ry=".3415"/><ellipse cx="346.9" cy="0.06" rx="18.5" ry=".3415"/><ellipse cx="367.7" cy="0.03" rx="18.5" ry=".3415"/><ellipse cx="388.6" cy="0.06" rx="18.5" ry=".3415"/><ellipse cx="419.9" cy="0.12" rx="18.5" ry=".3415"/><ellipse cx="461.6" cy="0.09" rx="18.5" ry=".3415"/><ellipse cx="503.3" cy="0.06" rx="18.5" ry=".3415"/><ellipse cx="545" cy="-0.06" rx="18.5" ry=".3415"/><ellipse cx="586.7" cy="-0.22" rx="18.5" ry=".3415"/><ellipse cx="628.4" cy="-0.25" rx="18.5" ry=".3415"/><ellipse cx="670.1" cy="-0.25" rx="18.5" ry=".3415"/><ellipse cx="711.8" cy="-0.28" rx="18.5" ry=".3415"/><ellipse cx="753.5" cy="-0.28" rx="18.5" ry=".3415"/><ellipse cx="795.2" cy="-0.12" rx="18.5" ry=".3415"/><ellipse cx="857.7" cy="0" rx="18.5" ry=".3415"/><ellipse cx="941.1" cy="0.12" rx="18.5" ry=".3415"/><ellipse cx="1024.5" cy="0.18" rx="18.5" ry=".3415"/><ellipse cx="1107.9" cy="0.18" rx="18.5" ry=".3415"/><ellipse cx="1191.3" cy="0" rx="18.5" ry=".3415"/>
</g>
<g fill="#00f">
<ellipse cx="180.1" cy="-0.22" rx="18.5" ry=".3415"/><ellipse cx="200.9" cy="-0.06" rx="18.5" ry=".3415"/><ellipse cx="221.8" cy="0.09" rx="18.5" ry=".3415"/><ellipse cx="242.6" cy="0" rx="18.5" ry=".3415"/><ellipse cx="263.5" cy="0.06" rx="18.5" ry=".3415"/><ellipse cx="284.3" cy="0" rx="18.5" ry=".3415"/><ellipse cx="305.2" cy="0.09" rx="18.5" ry=".3415"/><ellipse cx="326" cy="-0.18" rx="18.5" ry=".3415"/><ellipse cx="346.9" cy="-0.15" rx="18.5" ry=".3415"/><ellipse cx="367.7" cy="-0.43" rx="18.5" ry=".3415"/><ellipse cx="388.6" cy="-0.25" rx="18.5" ry=".3415"/><ellipse cx="419.9" cy="-0.06" rx="18.5" ry=".3415"/><ellipse cx="461.6" cy="0.22" rx="18.5" ry=".3415"/><ellipse cx="503.3" cy="0.31" rx="18.5" ry=".3415"/><ellipse cx="545" cy="0.46" rx="18.5" ry=".3415"/><ellipse cx="586.7" cy="0.25" rx="18.5" ry=".3415"/><ellipse cx="628.4" cy="0" rx="18.5" ry=".3415"/><ellipse cx="670.1" cy="0" rx="18.5" ry=".3415"/><ellipse cx="711.8" cy="0" rx="18.5" ry=".3415"/><ellipse cx="753.5" cy="0" rx="18.5" ry=".3415"/><ellipse cx="795.2" cy="-0.12" rx="18.5" ry=".3415"/><ellipse cx="857.7" cy="0" rx="18.5" ry=".3415"/><ellipse cx="941.1" cy="-0.09" rx="18.5" ry=".3415"/><ellipse cx="1024.5" cy="-0.22" rx="18.5" ry=".3415"/><ellipse cx="1107.9" cy="-0.06" rx="18.5" ry=".3415"/><ellipse cx="1191.3" cy="0.18" rx="18.5" ry=".3415"/>
</g>
</g>

<!-- panel g -->
<g transform="translate(385,2994) scale(1,-54.18)">
<g fill="#000">
<ellipse cx="117.5" cy="-0.8" rx="18.5" ry=".3415"/><ellipse cx="138.4" cy="-0.49" rx="18.5" ry=".3415"/><ellipse cx="159.2" cy="0.03" rx="18.5" ry=".3415"/><ellipse cx="180.1" cy="0.18" rx="18.5" ry=".3415"/><ellipse cx="200.9" cy="0.37" rx="18.5" ry=".3415"/><ellipse cx="221.8" cy="0.46" rx="18.5" ry=".3415"/><ellipse cx="242.6" cy="0.55" rx="18.5" ry=".3415"/><ellipse cx="263.5" cy="0.52" rx="18.5" ry=".3415"/><ellipse cx="284.3" cy="0.43" rx="18.5" ry=".3415"/><ellipse cx="305.2" cy="0.37" rx="18.5" ry=".3415"/><ellipse cx="326" cy="0.31" rx="18.5" ry=".3415"/><ellipse cx="346.9" cy="0.25" rx="18.5" ry=".3415"/><ellipse cx="367.7" cy="0.18" rx="18.5" ry=".3415"/><ellipse cx="388.6" cy="0.12" rx="18.5" ry=".3415"/><ellipse cx="419.9" cy="0.12" rx="18.5" ry=".3415"/><ellipse cx="461.6" cy="0" rx="18.5" ry=".3415"/><ellipse cx="503.3" cy="-0.09" rx="18.5" ry=".3415"/><ellipse cx="545" cy="-0.15" rx="18.5" ry=".3415"/><ellipse cx="586.7" cy="-0.22" rx="18.5" ry=".3415"/><ellipse cx="628.4" cy="-0.25" rx="18.5" ry=".3415"/><ellipse cx="670.1" cy="-0.31" rx="18.5" ry=".3415"/><ellipse cx="711.8" cy="-0.34" rx="18.5" ry=".3415"/><ellipse cx="753.5" cy="-0.28" rx="18.5" ry=".3415"/><ellipse cx="795.2" cy="-0.22" rx="18.5" ry=".3415"/><ellipse cx="857.7" cy="0.03" rx="18.5" ry=".3415"/><ellipse cx="941.1" cy="-0.06" rx="18.5" ry=".3415"/><ellipse cx="1024.5" cy="0.09" rx="18.5" ry=".3415"/><ellipse cx="1107.9" cy="0.25" rx="18.5" ry=".3415"/><ellipse cx="1191.3" cy="0.4" rx="18.5" ry=".3415"/>
</g>
<g fill="#f00">
<ellipse cx="117.5" cy="0.12" rx="18.5" ry=".3415"/><ellipse cx="138.4" cy="-0.22" rx="18.5" ry=".3415"/><ellipse cx="159.2" cy="-0.37" rx="18.5" ry=".3415"/><ellipse cx="180.1" cy="-0.46" rx="18.5" ry=".3415"/><ellipse cx="200.9" cy="-0.12" rx="18.5" ry=".3415"/><ellipse cx="221.8" cy="0.25" rx="18.5" ry=".3415"/><ellipse cx="242.6" cy="0.77" rx="18.5" ry=".3415"/><ellipse cx="263.5" cy="0.58" rx="18.5" ry=".3415"/><ellipse cx="284.3" cy="0.06" rx="18.5" ry=".3415"/><ellipse cx="305.2" cy="-0.09" rx="18.5" ry=".3415"/><ellipse cx="326" cy="0.09" rx="18.5" ry=".3415"/><ellipse cx="346.9" cy="0.09" rx="18.5" ry=".3415"/><ellipse cx="367.7" cy="0.06" rx="18.5" ry=".3415"/><ellipse cx="388.6" cy="0.09" rx="18.5" ry=".3415"/><ellipse cx="419.9" cy="0.12" rx="18.5" ry=".3415"/><ellipse cx="461.6" cy="0.06" rx="18.5" ry=".3415"/><ellipse cx="503.3" cy="-0.06" rx="18.5" ry=".3415"/><ellipse cx="545" cy="-0.12" rx="18.5" ry=".3415"/><ellipse cx="586.7" cy="-0.22" rx="18.5" ry=".3415"/><ellipse cx="628.4" cy="-0.28" rx="18.5" ry=".3415"/><ellipse cx="670.1" cy="-0.28" rx="18.5" ry=".3415"/><ellipse cx="711.8" cy="-0.28" rx="18.5" ry=".3415"/><ellipse cx="753.5" cy="-0.25" rx="18.5" ry=".3415"/><ellipse cx="795.2" cy="-0.15" rx="18.5" ry=".3415"/><ellipse cx="857.7" cy="-0.18" rx="18.5" ry=".3415"/><ellipse cx="941.1" cy="-0.03" rx="18.5" ry=".3415"/><ellipse cx="1024.5" cy="0.12" rx="18.5" ry=".3415"/><ellipse cx="1107.9" cy="0.15" rx="18.5" ry=".3415"/><ellipse cx="1191.3" cy="0.06" rx="18.5" ry=".3415"/>
</g>
<g fill="#00f">
<ellipse cx="180.1" cy="-0.22" rx="18.5" ry=".3415"/><ellipse cx="200.9" cy="-0.12" rx="18.5" ry=".3415"/><ellipse cx="221.8" cy="-0.06" rx="18.5" ry=".3415"/><ellipse cx="242.6" cy="0" rx="18.5" ry=".3415"/><ellipse cx="263.5" cy="0" rx="18.5" ry=".3415"/><ellipse cx="284.3" cy="0.03" rx="18.5" ry=".3415"/><ellipse cx="305.2" cy="0.12" rx="18.5" ry=".3415"/><ellipse cx="326" cy="-0.18" rx="18.5" ry=".3415"/><ellipse cx="346.9" cy="-0.09" rx="18.5" ry=".3415"/><ellipse cx="367.7" cy="-0.43" rx="18.5" ry=".3415"/><ellipse cx="388.6" cy="-0.37" rx="18.5" ry=".3415"/><ellipse cx="419.9" cy="-0.15" rx="18.5" ry=".3415"/><ellipse cx="461.6" cy="0.15" rx="18.5" ry=".3415"/><ellipse cx="503.3" cy="0.15" rx="18.5" ry=".3415"/><ellipse cx="545" cy="0.22" rx="18.5" ry=".3415"/><ellipse cx="586.7" cy="0.18" rx="18.5" ry=".3415"/><ellipse cx="628.4" cy="0.03" rx="18.5" ry=".3415"/><ellipse cx="670.1" cy="-0.03" rx="18.5" ry=".3415"/><ellipse cx="711.8" cy="-0.03" rx="18.5" ry=".3415"/><ellipse cx="753.5" cy="0.09" rx="18.5" ry=".3415"/><ellipse cx="795.2" cy="0" rx="18.5" ry=".3415"/><ellipse cx="857.7" cy="0" rx="18.5" ry=".3415"/><ellipse cx="941.1" cy="-0.03" rx="18.5" ry=".3415"/><ellipse cx="1024.5" cy="-0.15" rx="18.5" ry=".3415"/><ellipse cx="1107.9" cy="-0.12" rx="18.5" ry=".3415"/><ellipse cx="1191.3" cy="0" rx="18.5" ry=".3415"/>
</g>
</g>

<!-- panel h -->
<g transform="translate(1640,2994) scale(1,-54.18)">
<g fill="#000">
<ellipse cx="117.5" cy="-0.37" rx="18.5" ry=".3415"/><ellipse cx="138.4" cy="-0.12" rx="18.5" ry=".3415"/><ellipse cx="159.2" cy="0.09" rx="18.5" ry=".3415"/><ellipse cx="180.1" cy="0.25" rx="18.5" ry=".3415"/><ellipse cx="200.9" cy="0.31" rx="18.5" ry=".3415"/><ellipse cx="221.8" cy="0.34" rx="18.5" ry=".3415"/><ellipse cx="242.6" cy="0.4" rx="18.5" ry=".3415"/><ellipse cx="263.5" cy="0.37" rx="18.5" ry=".3415"/><ellipse cx="284.3" cy="0.34" rx="18.5" ry=".3415"/><ellipse cx="305.2" cy="0.28" rx="18.5" ry=".3415"/><ellipse cx="326" cy="0.25" rx="18.5" ry=".3415"/><ellipse cx="346.9" cy="0.18" rx="18.5" ry=".3415"/><ellipse cx="367.7" cy="0.09" rx="18.5" ry=".3415"/><ellipse cx="388.6" cy="0.06" rx="18.5" ry=".3415"/><ellipse cx="419.9" cy="0.03" rx="18.5" ry=".3415"/><ellipse cx="461.6" cy="0" rx="18.5" ry=".3415"/><ellipse cx="503.3" cy="-0.03" rx="18.5" ry=".3415"/><ellipse cx="545" cy="-0.06" rx="18.5" ry=".3415"/><ellipse cx="586.7" cy="-0.03" rx="18.5" ry=".3415"/><ellipse cx="628.4" cy="-0.09" rx="18.5" ry=".3415"/><ellipse cx="670.1" cy="-0.12" rx="18.5" ry=".3415"/><ellipse cx="711.8" cy="-0.15" rx="18.5" ry=".3415"/><ellipse cx="753.5" cy="-0.12" rx="18.5" ry=".3415"/><ellipse cx="795.2" cy="-0.09" rx="18.5" ry=".3415"/><ellipse cx="857.7" cy="0.03" rx="18.5" ry=".3415"/><ellipse cx="941.1" cy="-0.03" rx="18.5" ry=".3415"/><ellipse cx="1024.5" cy="0.06" rx="18.5" ry=".3415"/><ellipse cx="1107.9" cy="0.15" rx="18.5" ry=".3415"/><ellipse cx="1191.3" cy="0.25" rx="18.5" ry=".3415"/>
</g>
<g fill="#f00">
<ellipse cx="117.5" cy="0.09" rx="18.5" ry=".3415"/><ellipse cx="138.4" cy="-0.06" rx="18.5" ry=".3415"/><ellipse cx="159.2" cy="-0.18" rx="18.5" ry=".3415"/><ellipse cx="180.1" cy="-0.25" rx="18.5" ry=".3415"/><ellipse cx="200.9" cy="-0.09" rx="18.5" ry=".3415"/><ellipse cx="221.8" cy="0.18" rx="18.5" ry=".3415"/><ellipse cx="242.6" cy="0.49" rx="18.5" ry=".3415"/><ellipse cx="263.5" cy="0.43" rx="18.5" ry=".3415"/><ellipse cx="284.3" cy="0.18" rx="18.5" ry=".3415"/><ellipse cx="305.2" cy="0.06" rx="18.5" ry=".3415"/><ellipse cx="326" cy="0.09" rx="18.5" ry=".3415"/><ellipse cx="346.9" cy="0.06" rx="18.5" ry=".3415"/><ellipse cx="367.7" cy="0.09" rx="18.5" ry=".3415"/><ellipse cx="388.6" cy="0.09" rx="18.5" ry=".3415"/><ellipse cx="419.9" cy="0.06" rx="18.5" ry=".3415"/><ellipse cx="461.6" cy="0.03" rx="18.5" ry=".3415"/><ellipse cx="503.3" cy="-0.06" rx="18.5" ry=".3415"/><ellipse cx="545" cy="-0.15" rx="18.5" ry=".3415"/><ellipse cx="586.7" cy="-0.15" rx="18.5" ry=".3415"/><ellipse cx="628.4" cy="-0.22" rx="18.5" ry=".3415"/><ellipse cx="670.1" cy="-0.22" rx="18.5" ry=".3415"/><ellipse cx="711.8" cy="-0.22" rx="18.5" ry=".3415"/><ellipse cx="753.5" cy="-0.22" rx="18.5" ry=".3415"/><ellipse cx="795.2" cy="-0.15" rx="18.5" ry=".3415"/><ellipse cx="857.7" cy="-0.03" rx="18.5" ry=".3415"/><ellipse cx="941.1" cy="0.06" rx="18.5" ry=".3415"/><ellipse cx="1024.5" cy="0.06" rx="18.5" ry=".3415"/><ellipse cx="1107.9" cy="0.12" rx="18.5" ry=".3415"/><ellipse cx="1191.3" cy="0.12" rx="18.5" ry=".3415"/>
</g>
<g fill="#00f">
<ellipse cx="180.1" cy="-0.18" rx="18.5" ry=".3415"/><ellipse cx="200.9" cy="-0.12" rx="18.5" ry=".3415"/><ellipse cx="221.8" cy="-0.03" rx="18.5" ry=".3415"/><ellipse cx="242.6" cy="0" rx="18.5" ry=".3415"/><ellipse cx="263.5" cy="0" rx="18.5" ry=".3415"/><ellipse cx="284.3" cy="0" rx="18.5" ry=".3415"/><ellipse cx="305.2" cy="0.03" rx="18.5" ry=".3415"/><ellipse cx="326" cy="-0.18" rx="18.5" ry=".3415"/><ellipse cx="346.9" cy="-0.12" rx="18.5" ry=".3415"/><ellipse cx="367.7" cy="-0.18" rx="18.5" ry=".3415"/><ellipse cx="388.6" cy="-0.15" rx="18.5" ry=".3415"/><ellipse cx="419.9" cy="0" rx="18.5" ry=".3415"/><ellipse cx="461.6" cy="0.06" rx="18.5" ry=".3415"/><ellipse cx="503.3" cy="0.06" rx="18.5" ry=".3415"/><ellipse cx="545" cy="0.06" rx="18.5" ry=".3415"/><ellipse cx="586.7" cy="0.06" rx="18.5" ry=".3415"/><ellipse cx="628.4" cy="0.03" rx="18.5" ry=".3415"/><ellipse cx="670.1" cy="0.03" rx="18.5" ry=".3415"/><ellipse cx="711.8" cy="0" rx="18.5" ry=".3415"/><ellipse cx="753.5" cy="0.03" rx="18.5" ry=".3415"/><ellipse cx="795.2" cy="-0.03" rx="18.5" ry=".3415"/><ellipse cx="857.7" cy="-0.06" rx="18.5" ry=".3415"/><ellipse cx="941.1" cy="-0.06" rx="18.5" ry=".3415"/><ellipse cx="1024.5" cy="-0.09" rx="18.5" ry=".3415"/><ellipse cx="1107.9" cy="-0.06" rx="18.5" ry=".3415"/><ellipse cx="1191.3" cy="0" rx="18.5" ry=".3415"/>
</g>
</g>

<!-- frames -->
<g fill="none" stroke="#000" stroke-width="10">
<rect x="385" y="12" width="1255" height="1192"/><rect x="1640" y="12" width="1255" height="1192"/><rect x="2895" y="12" width="1258" height="1192"/>
<rect x="385" y="1204" width="1255" height="1192"/><rect x="1640" y="1204" width="1255" height="1192"/><rect x="2895" y="1204" width="1258" height="1192"/>
<rect x="385" y="2396" width="1255" height="1192"/><rect x="1640" y="2396" width="1255" height="1192"/><rect x="2895" y="2396" width="1258" height="1192"/>
</g>

<!-- y tick labels -->
<g font-size="70" text-anchor="end">
<text x="345" y="93">10</text><text x="345" y="364">5</text><text x="345" y="635">0</text><text x="345" y="906">−5</text><text x="345" y="1177">−10</text>
<text x="345" y="1285">10</text><text x="345" y="1556">5</text><text x="345" y="1827">0</text><text x="345" y="2098">−5</text><text x="345" y="2369">−10</text>
<text x="345" y="2477">10</text><text x="345" y="2748">5</text><text x="345" y="3019">0</text><text x="345" y="3290">−5</text><text x="345" y="3561">−10</text>
</g>
<!-- x tick labels -->
<g font-size="70" text-anchor="middle">
<text x="784" y="3677">1</text><text x="1201" y="3677">2</text><text x="1618" y="3677">3</text>
<text x="2039" y="3677">1</text><text x="2456" y="3677">2</text><text x="2873" y="3677">3</text>
<text x="3294" y="3677">1</text><text x="3711" y="3677">2</text><text x="4128" y="3677">3</text>
</g>
<!-- axis titles -->
<g font-size="84" text-anchor="middle">
<text transform="translate(84,600) rotate(-90)">pull</text>
<text transform="translate(84,1792) rotate(-90)">pull</text>
<text transform="translate(84,2984) rotate(-90)">pull</text>
</g>
<g font-size="84">
<text x="810" y="3788">p<tspan font-size="58" dy="37">T</tspan><tspan dy="-37"> [GeV/c]</tspan></text>
<text x="2065" y="3788">p<tspan font-size="58" dy="37">T</tspan><tspan dy="-37"> [GeV/c]</tspan></text>
<text x="3322" y="3788">p<tspan font-size="58" dy="37">T</tspan><tspan dy="-37"> [GeV/c]</tspan></text>
</g>
<!-- panel titles -->
<g font-size="70">
<text x="493" y="176">1-<tspan class="sym">ρ</tspan> percentile: 0-1%</text>
<text x="1748" y="176">1-<tspan class="sym">ρ</tspan> percentile: 1-5%</text>
<text x="3003" y="176">1-<tspan class="sym">ρ</tspan> percentile: 5-10%</text>
<text x="493" y="1368">1-<tspan class="sym">ρ</tspan> percentile: 10-20%</text>
<text x="1748" y="1368">1-<tspan class="sym">ρ</tspan> percentile: 20-30%</text>
<text x="3003" y="1368">1-<tspan class="sym">ρ</tspan> percentile: 30-40%</text>
<text x="493" y="2560">1-<tspan class="sym">ρ</tspan> percentile: 40-50%</text>
<text x="1748" y="2560">1-<tspan class="sym">ρ</tspan> percentile: 50-100%</text>
</g>
<g font-size="70">
<text x="1469" y="1134">(a)</text><text x="2724" y="1134">(b)</text><text x="3979" y="1134">(c)</text>
<text x="1469" y="2326">(d)</text><text x="2724" y="2326">(e)</text><text x="3979" y="2326">(f)</text>
<text x="1469" y="3518">(g)</text><text x="2724" y="3518">(h)</text>
</g>
<!-- legend panel -->
<g font-size="70">
<text x="3040" y="2612">TBW4</text>
<text x="3040" y="2726">pp 13TeV</text>
<text x="3040" y="2856">V0M percentile: 0-1%</text>
</g>
<circle cx="3227" cy="3177" r="18.5" fill="#000"/>
<circle cx="3227" cy="3280" r="18.5" fill="#ff0000"/>
<circle cx="3227" cy="3384" r="18.5" fill="#0000ff"/>
<text x="3334" y="3196" font-size="72" class="sym" font-style="italic">π</text>
<text x="3371" y="3171" font-size="40">+</text>
<text x="3412" y="3196" font-size="63">+</text>
<text x="3479" y="3196" font-size="72" class="sym" font-style="italic">π</text>
<text x="3518" y="3168" font-size="40">-</text>
<text x="3336" y="3298" font-size="63">K</text>
<text x="3384" y="3263" font-size="36">+</text>
<text x="3426" y="3298" font-size="63">+</text>
<text x="3487" y="3298" font-size="63">K</text>
<text x="3533" y="3263" font-size="36">-</text>
<text x="3332" y="3393" font-size="63">p</text>
<text x="3391" y="3393" font-size="63">+</text>
<text x="3453" y="3393" font-size="63">p</text>
<rect x="3455" y="3348" width="41" height="7" fill="#000"/>
</svg>
</body></html>
